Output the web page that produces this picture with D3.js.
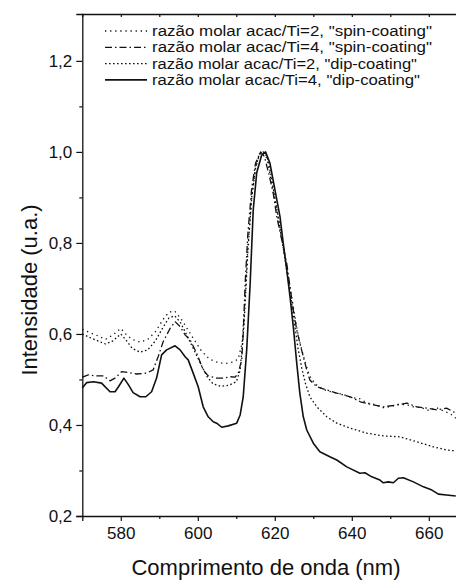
<!DOCTYPE html>
<html><head><meta charset="utf-8">
<script src="https://cdn.jsdelivr.net/npm/d3@7"></script>
<style>
html,body{margin:0;padding:0;background:#fff;}
svg{display:block;font-family:"Liberation Sans",Arial,Helvetica,sans-serif;}
</style></head>
<body>
<svg id="chart" width="456" height="582"></svg>
<script>
// ---- data ----
const xTicksMajor = [580, 600, 620, 640, 660];
const xTicksMinor = [570, 590, 610, 630, 650];
const yTicksMajor = [0.2, 0.4, 0.6, 0.8, 1.0, 1.2];
const yTicksMinor = [0.3, 0.5, 0.7, 0.9, 1.1];
const seriesNames = [
  'razão molar acac/Ti=2, "spin-coating"',
  'razão molar acac/Ti=4, "spin-coating"',
  'razão molar acac/Ti=2, "dip-coating"',
  'razão molar acac/Ti=4, "dip-coating"'
];
const spin2 = [[570,0.61],[572,0.603],[574,0.596],[576,0.588],[578,0.598],[580,0.612],[581.5,0.598],[583,0.588],[585,0.582],[587,0.588],[589,0.605],[591,0.632],[592.5,0.648],[594,0.65],[595.5,0.635],[597,0.615],[599,0.588],[601,0.562],[603,0.545],[605,0.538],[607,0.535],[609,0.538],[610.5,0.545],[611.5,0.58],[612.3,0.68],[613,0.79],[614,0.9],[615,0.965],[616,0.995],[617,1.0],[618,0.985],[619,0.94],[620,0.895],[621,0.85],[622,0.8],[623,0.75],[624,0.7],[625,0.65],[626,0.6],[627,0.565],[628,0.535],[629,0.508],[630.5,0.49],[632.5,0.478],[635,0.472],[637.5,0.468],[640,0.46],[642,0.458],[644,0.448],[646,0.445],[648,0.438],[650,0.44],[652,0.445],[654,0.445],[656,0.44],[658,0.438],[660,0.432],[662,0.438],[664,0.43],[665.5,0.425],[667,0.415]];
const spin4 = [[570,0.505],[571.6,0.510],[573.3,0.508],[575.5,0.508],[577.2,0.497],[578.5,0.503],[580.2,0.517],[582.0,0.515],[584.1,0.512],[586.7,0.514],[588.4,0.521],[589.7,0.550],[591.0,0.583],[592.8,0.612],[594.1,0.627],[595.4,0.616],[596.7,0.598],[598.0,0.587],[599.7,0.558],[601.4,0.521],[602.7,0.508],[604.9,0.503],[606.6,0.503],[608.4,0.506],[609.7,0.505],[610.5,0.514],[611.4,0.543],[611.8,0.602],[612.3,0.711],[613,0.82],[614,0.92],[615,0.975],[616.3,1.0],[617.3,0.99],[618.5,0.95],[619.6,0.909],[620.5,0.858],[621.8,0.807],[623.1,0.755],[623.95,0.704],[624.8,0.653],[625.7,0.609],[626.5,0.580],[627.4,0.550],[628.3,0.521],[629.1,0.499],[630.9,0.484],[633.5,0.477],[636.1,0.470],[639.6,0.462],[642.2,0.451],[645.6,0.444],[648.2,0.440],[651.7,0.444],[654.3,0.448],[656.9,0.440],[659.5,0.437],[662.1,0.433],[664.6,0.437],[667,0.426]];
const dip2 = [[570,0.6],[572,0.592],[574,0.585],[576,0.578],[578,0.585],[580,0.6],[581.5,0.585],[583,0.568],[585,0.56],[587,0.565],[589,0.585],[591,0.615],[592.5,0.635],[594,0.64],[595.5,0.625],[597,0.6],[599,0.565],[601,0.53],[602.5,0.505],[604,0.49],[606,0.485],[608,0.487],[610,0.495],[611,0.52],[612,0.62],[613,0.78],[614,0.9],[615,0.965],[616,0.995],[617,1.0],[618,0.99],[619,0.95],[620,0.9],[621,0.85],[622,0.8],[623,0.745],[624,0.69],[625,0.63],[626,0.57],[627,0.525],[628,0.49],[629.1,0.462],[630.9,0.440],[633.5,0.418],[636.1,0.404],[639.6,0.393],[643.9,0.382],[648.2,0.376],[652.5,0.374],[656.9,0.363],[661.2,0.352],[664.6,0.345],[667,0.343]];
const dip4 = [[570,0.481],[571.1,0.493],[572.9,0.495],[575.0,0.492],[577.2,0.473],[578.5,0.473],[579.4,0.484],[580.8,0.503],[582.0,0.488],[583.2,0.471],[585.0,0.462],[586.5,0.462],[588.0,0.473],[589.3,0.503],[590.6,0.554],[591.9,0.565],[594.1,0.574],[595.4,0.565],[596.7,0.550],[597.5,0.543],[598.8,0.514],[600.1,0.484],[601.4,0.440],[602.7,0.418],[604.0,0.407],[604.9,0.404],[606.2,0.395],[607.9,0.398],[610.1,0.404],[611.0,0.422],[611.8,0.462],[612.7,0.565],[613.6,0.711],[614.4,0.873],[615.3,0.954],[616.6,0.993],[617.6,1.0],[618.75,0.975],[620.05,0.916],[621.35,0.858],[622.2,0.799],[623.1,0.741],[623.95,0.682],[624.8,0.616],[625.7,0.536],[626.5,0.470],[627.4,0.418],[628.3,0.389],[630.0,0.360],[631.7,0.341],[634.3,0.330],[636.1,0.323],[638.7,0.308],[642.1,0.294],[643.4,0.295],[645.2,0.286],[647.3,0.279],[648.2,0.273],[649.5,0.275],[650.8,0.273],[652.1,0.283],[653.4,0.284],[656.0,0.275],[658.6,0.264],[660.8,0.257],[662.5,0.248],[664.6,0.246],[667,0.244]];

// ---- chart ----
(function () {
const svg = d3.select("#chart");
const mLeft = 82.3, mRight = 459.6, mTop = 14, mBottom = 516;
const x = d3.scaleLinear().domain([570, 668]).range([mLeft, mRight]);
const y = d3.scaleLinear().domain([0.2, 1.303]).range([mBottom, mTop]);
const fmt = d => d3.format(".1f")(d).replace(".", ",");

const styles = [
  {data: spin2, dash: "1.3,3.8", w: 1.3},
  {data: spin4, dash: "7,3,1.5,3", w: 1.3},
  {data: dip2, dash: "1.6,2.4", w: 1.3},
  {data: dip4, dash: null, w: 1.6}
];

const line = d3.line().x(d => x(d[0])).y(d => y(d[1]));
styles.forEach(s => {
  svg.append("path").datum(s.data).attr("d", line)
    .attr("fill", "none").attr("stroke", "#111").attr("stroke-width", s.w)
    .attr("stroke-dasharray", s.dash).attr("stroke-linejoin", "round");
});

function styleAxis(g) {
  g.selectAll("path").attr("stroke", "#111").attr("stroke-width", 1.3);
  g.selectAll("line").attr("stroke", "#111").attr("stroke-width", 1.2);
  g.selectAll("text").attr("fill", "#111").style("font-family", '"Liberation Sans",Arial,sans-serif');
}

const gx = svg.append("g").attr("transform", `translate(0,${mBottom})`)
  .call(d3.axisBottom(x).tickValues(xTicksMajor).tickSize(5).tickPadding(6).tickFormat(d3.format("d")));
gx.selectAll("text").attr("font-size", 17);
styleAxis(gx);
const gx2 = svg.append("g").attr("transform", `translate(0,${mBottom})`)
  .call(d3.axisBottom(x).tickValues(xTicksMinor.filter(v => v > 570)).tickSize(3).tickFormat(""));
gx2.select("path").remove();
styleAxis(gx2);

const gt = svg.append("g").attr("transform", `translate(0,${mTop})`)
  .call(d3.axisBottom(x).tickValues(xTicksMajor.concat(xTicksMinor.filter(v => v > 570))).tickSize(3).tickFormat(""));
styleAxis(gt);

const gy = svg.append("g").attr("transform", `translate(${mLeft},0)`)
  .call(d3.axisLeft(y).tickValues(yTicksMajor).tickSize(6).tickPadding(4).tickFormat(fmt));
gy.selectAll("text").attr("font-size", 17);
styleAxis(gy);
const gy2 = svg.append("g").attr("transform", `translate(${mLeft},0)`)
  .call(d3.axisLeft(y).tickValues(yTicksMinor).tickSize(3).tickFormat(""));
gy2.select("path").remove();
styleAxis(gy2);

svg.append("text").attr("x", 266).attr("y", 575).attr("text-anchor", "middle")
  .attr("font-size", 22).attr("fill", "#111").text("Comprimento de onda (nm)");
svg.append("text").attr("transform", "translate(37,290) rotate(-90)").attr("text-anchor", "middle")
  .attr("font-size", 22).attr("fill", "#111").text("Intensidade (u.a.)");

const lg = svg.append("g");
const legendWidths = [280, 280, 265, 268];
styles.forEach((s, i) => {
  const cy = 31 + i * 16.3;
  lg.append("line").attr("x1", 105).attr("x2", 147).attr("y1", cy).attr("y2", cy)
    .attr("stroke", "#111").attr("stroke-width", s.w).attr("stroke-dasharray", s.dash);
  lg.append("text").attr("x", 152).attr("y", cy + 5).attr("font-size", 14).attr("fill", "#111")
    .attr("textLength", legendWidths[i]).attr("lengthAdjust", "spacingAndGlyphs")
    .text(seriesNames[i]);
});
})();
</script>
</body></html>
